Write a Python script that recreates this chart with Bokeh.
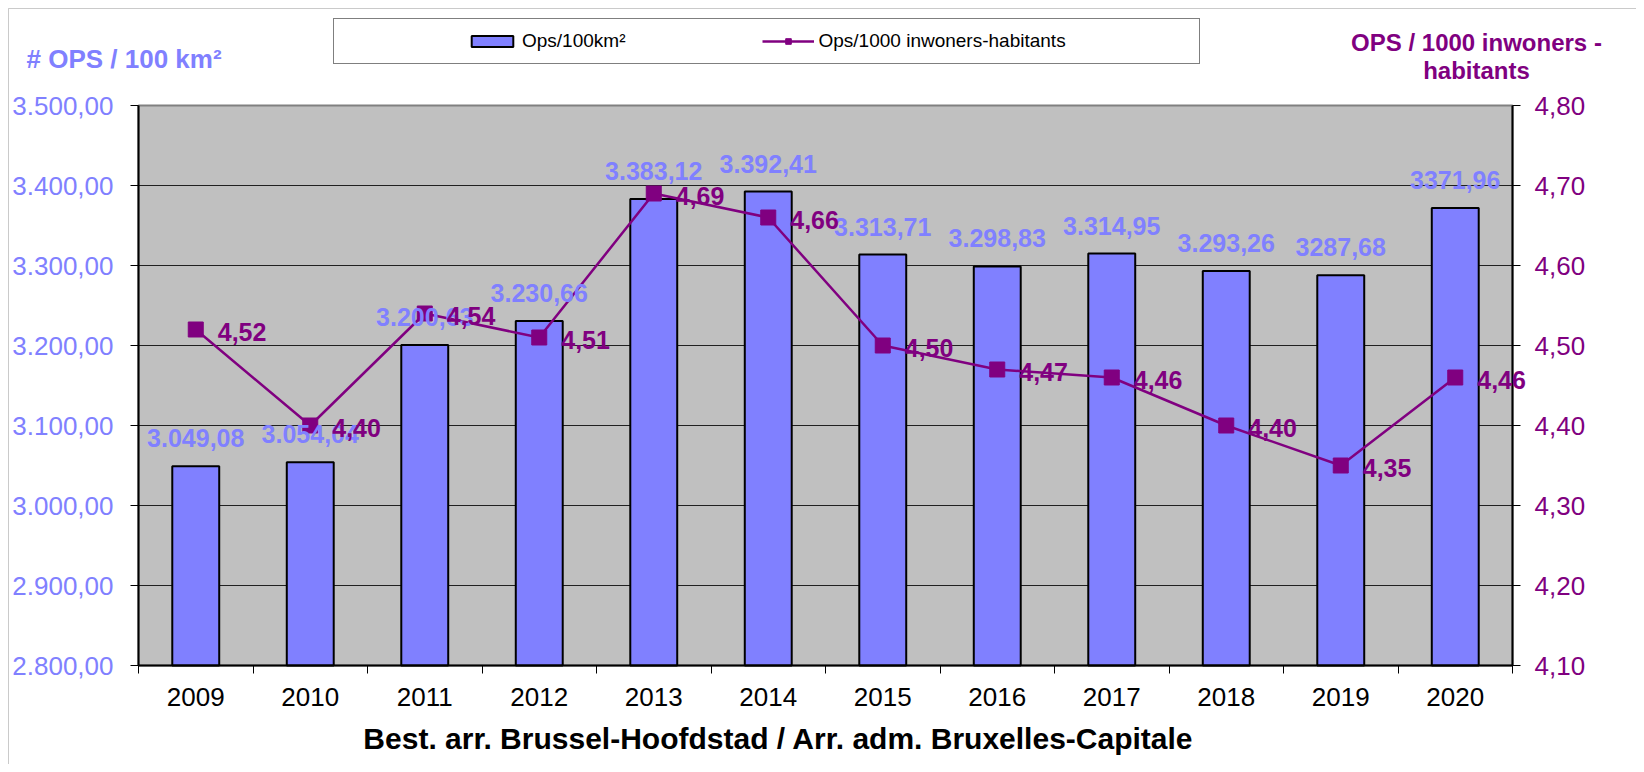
from bokeh.plotting import figure
from bokeh.models import (Range1d, LinearAxis, FixedTicker, ColumnDataSource, Legend,
                          LegendItem, Label, LabelSet, BoxAnnotation)
from bokeh.core.properties import value
from bokeh.embed import file_html
from bokeh.resources import INLINE

# ---------------- data ----------------
years = ["2009", "2010", "2011", "2012", "2013", "2014", "2015", "2016", "2017", "2018", "2019", "2020"]
ops_per_100km2 = [3049.08, 3054.04, 3200.63, 3230.66, 3383.12, 3392.41, 3313.71, 3298.83,
                  3314.95, 3293.26, 3287.68, 3371.96]
ops_per_1000_inh = [4.52, 4.40, 4.54, 4.51, 4.69, 4.66, 4.50, 4.47, 4.46, 4.40, 4.35, 4.46]
bar_label_texts = ["3.049,08", "3.054,04", "3.200,63", "3.230,66", "3.383,12", "3.392,41",
                   "3.313,71", "3.298,83", "3.314,95", "3.293,26", "3287,68", "3371,96"]
line_label_texts = ["4,52", "4,40", "4,54", "4,51", "4,69", "4,66", "4,50", "4,47", "4,46",
                    "4,40", "4,35", "4,46"]
left_ticks = [2800, 2900, 3000, 3100, 3200, 3300, 3400, 3500]
left_tick_labels = ["2.800,00", "2.900,00", "3.000,00", "3.100,00", "3.200,00", "3.300,00",
                    "3.400,00", "3.500,00"]
right_ticks = [4.1, 4.2, 4.3, 4.4, 4.5, 4.6, 4.7, 4.8]
right_tick_labels = ["4,10", "4,20", "4,30", "4,40", "4,50", "4,60", "4,70", "4,80"]

series_bar_name = "Ops/100km²"
series_line_name = "Ops/1000 inwoners-habitants"
left_title = "# OPS / 100 km²"
right_title_1 = "OPS / 1000 inwoners -"
right_title_2 = "habitants"
x_title = "Best. arr. Brussel-Hoofdstad / Arr. adm. Bruxelles-Capitale"

# ---------------- layout (canvas pixels) ----------------
FONT = "Liberation Sans"
BAR = "#8080FF"
PURPLE = "#800080"
W, H = 1636, 764
PL, PR, PT, PB = 138, 1512, 105, 665      # plot area edges

n = len(years)
xs = list(range(n))
x_lo, x_hi = -0.5, n - 0.5
kx = (PR - PL) / (x_hi - x_lo)
y_lo, y_hi = left_ticks[0], left_ticks[-1]
ky = (PB - PT) / (y_hi - y_lo)
r_lo, r_hi = right_ticks[0], right_ticks[-1]
kr = (PB - PT) / (r_hi - r_lo)

src = ColumnDataSource(dict(x=xs, bar=ops_per_100km2, line=ops_per_1000_inh,
                            bl=bar_label_texts, ll=line_label_texts))

p = figure(width=W, height=H, output_backend="svg", toolbar_location=None,
           x_range=Range1d(x_lo - PL / kx, x_hi + (W - PR) / kx),
           y_range=Range1d(y_lo - (H - PB) / ky, y_hi + PT / ky),
           min_border_left=0, min_border_right=0, min_border_top=0, min_border_bottom=0,
           background_fill_color="white", border_fill_color="white")
p.title.visible = False
p.outline_line_color = None
p.xgrid.grid_line_color = None
p.ygrid.grid_line_color = None
p.extra_y_ranges = {"r": Range1d(r_lo - (H - PB) / kr, r_hi + PT / kr)}

# plot area background
p.quad(left=[x_lo], right=[x_hi], bottom=[y_lo], top=[y_hi], fill_color="#C0C0C0",
       line_color="#808080", line_width=2)
# horizontal gridlines
p.segment(x0=x_lo, x1=x_hi, y0=left_ticks[1:-1], y1=left_ticks[1:-1],
          line_color="#202020", line_width=1)

# x axis
xa = p.xaxis[0]
xa.fixed_location = y_lo
xa.bounds = (x_lo, x_hi)
xa.ticker = FixedTicker(ticks=xs, minor_ticks=[i - 0.5 for i in range(n + 1)])
xa.major_label_overrides = {i: y for i, y in zip(xs, years)}
xa.major_tick_line_color = None
xa.minor_tick_line_color = "black"
xa.minor_tick_out = 8
xa.minor_tick_in = 0
xa.axis_line_color = "black"
xa.axis_line_width = 2
xa.major_label_text_font = FONT
xa.major_label_text_font_size = "26px"
xa.major_label_text_color = "black"
xa.major_label_standoff = 14

# left axis
ya = p.yaxis[0]
ya.fixed_location = x_lo
ya.bounds = (y_lo, y_hi)
ya.ticker = FixedTicker(ticks=left_ticks, minor_ticks=[])
ya.major_label_overrides = {t: s for t, s in zip(left_ticks, left_tick_labels)}
ya.major_tick_out = 8
ya.major_tick_in = 0
ya.major_tick_line_color = "black"
ya.axis_line_color = "black"
ya.axis_line_width = 2
ya.major_label_text_font = FONT
ya.major_label_text_font_size = "26px"
ya.major_label_text_color = BAR
ya.major_label_standoff = 17

# right axis
ra = LinearAxis(y_range_name="r", fixed_location=x_hi, bounds=(r_lo, r_hi),
                ticker=FixedTicker(ticks=right_ticks, minor_ticks=[]))
ra.major_label_overrides = {t: s for t, s in zip(right_ticks, right_tick_labels)}
ra.major_tick_out = 8
ra.major_tick_in = 0
ra.major_tick_line_color = "black"
ra.axis_line_color = "black"
ra.axis_line_width = 2
ra.major_label_text_font = FONT
ra.major_label_text_font_size = "26px"
ra.major_label_text_color = PURPLE
ra.major_label_standoff = 14
p.add_layout(ra, "right")

# bars
bars = p.vbar(x="x", top="bar", bottom=y_lo, width=0.41, source=src,
              fill_color=BAR, line_color="black", line_width=2)
# line
ln = p.line(x="x", y="line", source=src, y_range_name="r", line_color=PURPLE, line_width=2.5)
mk = p.scatter(x="x", y="line", source=src, y_range_name="r", marker="square", size=15,
               fill_color=PURPLE, line_color=PURPLE)

# data labels
p.add_layout(LabelSet(x="x", y="bar", text="bl", source=src, text_align="center",
                      text_baseline="middle", y_offset=28, text_font=value(FONT),
                      text_font_style="bold", text_font_size="25px", text_color=BAR))
p.add_layout(LabelSet(x="x", y="line", text="ll", source=src, y_range_name="r",
                      text_align="left", text_baseline="middle", x_offset=22, y_offset=-2,
                      text_font=value(FONT), text_font_style="bold", text_font_size="25px",
                      text_color=PURPLE))

# titles (screen units: from left / bottom of the canvas-sized frame)
def lab(text, x, y, align, size, color):
    p.add_layout(Label(x=x, y=H - y, x_units="screen", y_units="screen", text=text,
                       text_align=align, text_baseline="middle", text_font=FONT,
                       text_font_style="bold", text_font_size=size, text_color=color))

lab(left_title, 26, 58, "left", "26px", BAR)
lab(right_title_1, 1476, 42, "center", "24px", PURPLE)
lab(right_title_2, 1476, 70, "center", "24px", PURPLE)
lab(x_title, 778, 738, "center", "30px", "black")

# outer border
p.add_layout(BoxAnnotation(left=8, right=W + 20, bottom=-20, top=H - 8,
                           left_units="screen", right_units="screen",
                           bottom_units="screen", top_units="screen",
                           fill_color=None, line_color="#505050", line_width=1))

# legend box (spacer) and legend items
spacer = p.scatter(x=[], y=[], alpha=0)
legA = Legend(items=[LegendItem(label=" ", renderers=[spacer])], location=(333, H - 64),
              orientation="horizontal", padding=0, glyph_width=858, glyph_height=44,
              label_width=7, label_height=44, label_standoff=0,
              border_line_color="black", border_line_width=1,
              background_fill_color="white", background_fill_alpha=1,
              label_text_font_size="18px")
p.add_layout(legA)
legB = Legend(items=[LegendItem(label=series_bar_name, renderers=[bars]),
                     LegendItem(label=series_line_name, renderers=[ln, mk])],
              location=(466, H - 52), orientation="horizontal", padding=0, spacing=137,
              glyph_width=52, glyph_height=14, label_standoff=4, label_height=20,
              border_line_color=None, background_fill_alpha=0,
              label_text_font=FONT, label_text_font_size="19px", label_text_color="black")
p.add_layout(legB)

open("out.html", "w").write(file_html(p, INLINE))
